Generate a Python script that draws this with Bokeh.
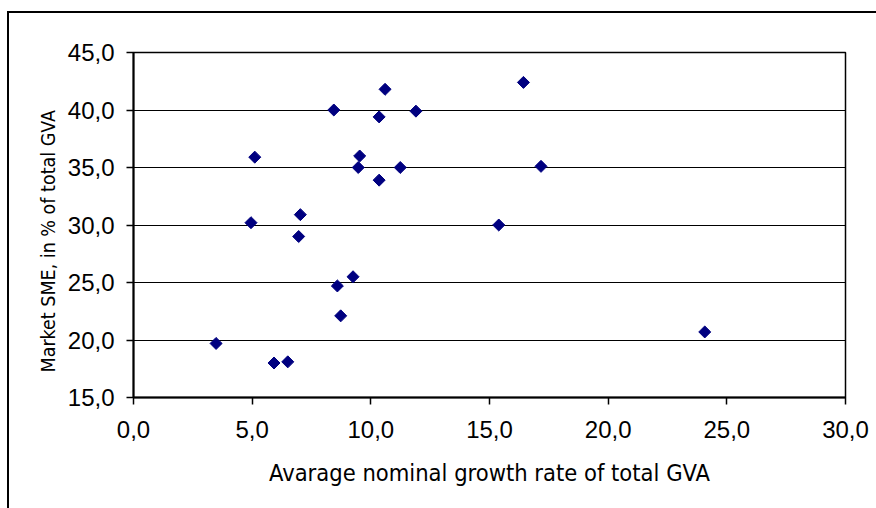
import math
from bokeh.plotting import figure
from bokeh.models import ColumnDataSource, FixedTicker, CustomJSTickFormatter, Title
from bokeh.embed import file_html
from bokeh.resources import INLINE

# Data
growth = [3.48, 5.92, 6.50, 4.95, 5.11, 7.03, 6.96, 8.44, 8.59, 8.73, 9.25,
          9.47, 9.53, 10.35, 10.35, 10.60, 11.24, 11.90, 15.39, 16.43, 17.17, 24.07]
sme_share = [19.7, 18.0, 18.1, 30.2, 35.9, 30.9, 29.0, 40.0, 24.7, 22.1, 25.5,
             35.0, 36.0, 39.4, 33.9, 41.8, 35.0, 39.9, 30.0, 42.4, 35.1, 20.7]
x_ticks = [0, 5, 10, 15, 20, 25, 30]
y_ticks = [15, 20, 25, 30, 35, 40, 45]
x_title = "Avarage nominal growth rate of total GVA"
y_title = "Market SME, in % of total GVA"

src = ColumnDataSource(data=dict(x=growth, y=sme_share))

p = figure(frame_width=712, frame_height=345,
           x_range=(0, 30), y_range=(15, 45),
           output_backend="svg", toolbar_location=None,
           min_border_left=124, min_border_right=31,
           min_border_top=39, min_border_bottom=111)
p.margin = (11, 0, 0, 7)
p.styles = {"border-left": "2px solid black", "border-top": "2px solid black"}

p.background_fill_color = "white"
p.border_fill_color = "white"
p.outline_line_color = "black"
p.outline_line_width = 1.5

p.scatter("x", "y", source=src, marker="square", size=8.5, angle=math.pi / 4,
          fill_color="#000080", line_color="#000080")

fmt = CustomJSTickFormatter(code="return tick.toFixed(1).replace('.', ',');")

for ax, ticks in ((p.xaxis[0], x_ticks), (p.yaxis[0], y_ticks)):
    ax.ticker = FixedTicker(ticks=ticks)
    ax.formatter = fmt
    ax.axis_line_color = "black"
    ax.axis_line_width = 2
    ax.major_tick_line_color = "black"
    ax.major_tick_line_width = 1.5
    ax.major_tick_out = 7
    ax.major_tick_in = 0
    ax.minor_tick_line_color = None
    ax.major_label_text_font = "Liberation Sans"
    ax.major_label_text_font_size = "24px"
    ax.major_label_text_color = "black"
    ax.axis_label_text_font = "DejaVu Sans Condensed"
    ax.axis_label_text_font_style = "normal"
    ax.axis_label_text_color = "black"

p.xaxis.axis_label = x_title
p.xaxis.axis_label_text_font_size = "23.5px"
p.xaxis.major_label_standoff = 16
p.xaxis.axis_label_standoff = 18

p.yaxis.major_label_standoff = 12

ytitle = Title(text=y_title, align="left", offset=25,
               text_font="DejaVu Sans Condensed", text_font_size="19.5px",
               text_font_style="normal", text_color="black")
p.add_layout(ytitle, "left")

p.xgrid.visible = False
p.ygrid.ticker = FixedTicker(ticks=y_ticks)
p.ygrid.grid_line_color = "black"
p.ygrid.grid_line_width = 1.2

open("out.html", "w").write(file_html(p, INLINE))
